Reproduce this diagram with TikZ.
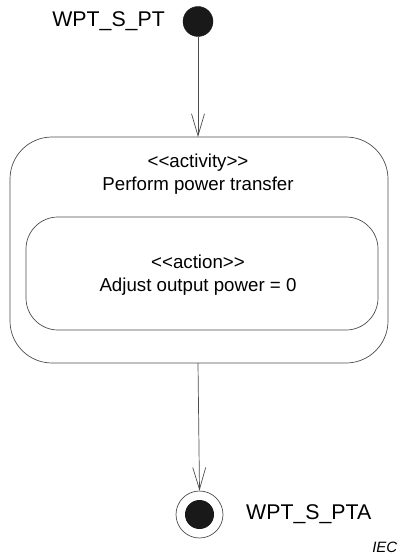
\documentclass[tikz,border=0pt]{standalone}
\usepackage{fontspec}
\setmainfont{Liberation Sans}
\usetikzlibrary{arrows.meta}
\begin{document}
\begin{tikzpicture}[x=1pt,y=-1pt,
  line/.style={draw=black!70, line width=0.7pt},
  flow/.style={line, -{Straight Barb[length=22pt,width=13pt,line width=0.7pt]}},
  lbl/.style={font=\fontsize{21.3}{24}\selectfont, inner sep=0pt},
  boxtext/.style={font=\fontsize{18.7}{23}\selectfont, align=center, inner sep=0pt},
  activitybox/.style={line, rounded corners=42pt},
  actionbox/.style={line, rounded corners=32pt}]
  \useasboundingbox (0,0) rectangle (398,559);

  % initial state
  \node[circle, fill=black!90, draw=black!90, minimum size=30pt, inner sep=0pt] (init) at (198,21.5) {};
  \node[lbl, anchor=east] (initlbl) at (165,21.5) {WPT\_S\_PT};

  % activity with nested action
  \draw[activitybox] (10,137) rectangle (388,363);
  \coordinate (acttop) at (198,137);
  \coordinate (actbot) at (198,363);
  \node[boxtext] (acttxt) at (198,174) {{<}{<}activity{>}{>}\\Perform power transfer};
  \draw[actionbox] (26,217) rectangle (378,330);
  \node[boxtext] (actiontxt) at (198,275.5) {{<}{<}action{>}{>}\\Adjust output power = 0};

  % final state
  \node[circle, draw=black!70, line width=0.7pt, minimum size=47pt, inner sep=0pt] (final) at (199.5,514.5) {};
  \node[circle, fill=black!90, minimum size=29pt, inner sep=0pt] (finalin) at (final.center) {};
  \node[lbl, anchor=west] (finallbl) at (246,514.5) {WPT\_S\_PTA};

  % transitions
  \draw[flow] (init.south) -- (acttop);
  \draw[flow] (actbot) -- (final.north);

  \node[font=\itshape\fontsize{15}{17}\selectfont, anchor=south east, inner sep=0pt] (iec) at (397.5,553) {IEC};
\end{tikzpicture}
\end{document}
